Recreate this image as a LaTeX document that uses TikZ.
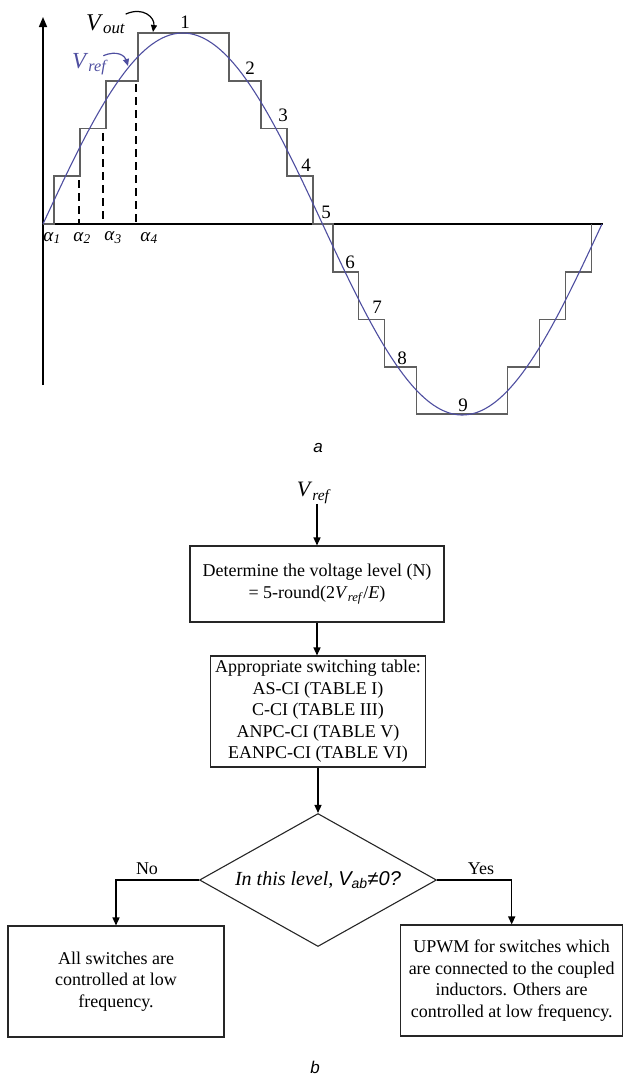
\documentclass[tikz,border=0pt]{standalone}
\usepackage{fontspec}
\setmainfont{Liberation Serif}
\setsansfont{Liberation Sans}
\usetikzlibrary{shapes.geometric, arrows.meta, positioning, calc}
\definecolor{refcolor}{RGB}{78, 78, 160}
\definecolor{stepcolor}{RGB}{95, 95, 95}

\begin{document}
\begin{tikzpicture}[
    x=1pt, y=-1pt,
    >={Triangle[length=8pt, width=7pt]},
    box/.style={rectangle, draw=black!85, line width=1.1pt, align=center, inner sep=0pt, font=\fontsize{18}{21.5}\selectfont},
    decision/.style={diamond, draw=black!85, line width=1.1pt, aspect=2, inner sep=0pt, minimum width=237pt, minimum height=133pt, font=\fontsize{20}{24}\selectfont},
    arrow/.style={->, line width=1.4pt},
    curvearrow/.style={-{Triangle[length=7pt, width=6pt]}, line width=1.2pt},
    lvl/.style={font=\fontsize{19}{22}\selectfont, inner sep=0pt},
    alphalbl/.style={font=\fontsize{19}{22}\selectfont, inner sep=0pt},
    branch/.style={font=\fontsize{18}{22}\selectfont, inner sep=0pt},
    figcap/.style={font=\fontsize{17}{20}\selectfont\sffamily\itshape, inner sep=0pt},
    alphaline/.style={line width=2.3pt, dash pattern=on 8pt off 5pt}
]
\useasboundingbox (0,0) rectangle (623,1077);

% Waveform (a)
\draw[line width=1.6pt, -{Triangle[length=10pt, width=8pt]}] (43,385) -- (43,17);
\draw[line width=1.8pt] (43,224) -- (603,224);

\draw[stepcolor, line width=1.2pt] (43,224) -| (54,176) -| (80,128.5) -| (106,81) -| (138,33)
    -| (229,81) -| (261,128.5) -| (287,176) -| (313,224) -| (333,272) -| (358.5,319.5)
    -| (384.5,367) -| (416.5,414) -| (507.5,367) -| (539.5,319.5) -| (565.5,272) -| (591.5,224);
\draw[refcolor, line width=1.1pt, domain=43:602, samples=160, smooth]
    plot (\x, {224-191*sin((\x-43)/559*360)});

\draw[alphaline] (79,180) -- (79,224);
\draw[alphaline] (103,133) -- (103,224);
\draw[alphaline] (136,84) -- (136,224);

\foreach \i/\px in {1/52, 2/82, 3/113, 4/149}
    \node[alphalbl] (a\i) at (\px,238) {\textit{α}\textsubscript{\textit{\i}}};

\foreach \n/\px/\py in {1/185/22, 2/250/68, 3/283/115, 4/306/165, 5/326/212, 6/350/262, 7/377/307, 8/402/358, 9/463/405}
    \node[lvl] (n\n) at (\px,\py) {\n};

% Curve labels
\node[anchor=base west, inner sep=0pt, font=\fontsize{24}{28}\selectfont] (vout) at (86,30) {\textit{V}\textsubscript{\textit{out}}};
\coordinate (voutstep) at (153,32);
\draw[curvearrow] (vout.north east) .. controls +(18,-8) and +(2,-14) .. (voutstep);

\node[anchor=base west, inner sep=0pt, text=refcolor, font=\fontsize{23}{27}\selectfont] (vrefa) at (72,68) {\textit{V}\textsubscript{\textit{ref}}};
\coordinate (vrefcurve) at (128,66);
\draw[curvearrow, refcolor] ($(vrefa.north east)+(-5,3)$) .. controls +(14,-6) and +(-3,-10) .. (vrefcurve);

\node[figcap] (capa) at (318,448) {a};

% Flowchart (b)
\node[inner sep=0pt, font=\fontsize{22}{26}\selectfont] (vin) at (314,493) {\textit{V}\textsubscript{\textit{ref}}};

\node[box, minimum width=254pt, minimum height=76pt] (level) at (317,584) {
    Determine the voltage level (N)\\
    = 5-round(2\textit{V}\textsubscript{\textit{ref}}/\textit{E})
};

\node[box, minimum width=215pt, minimum height=111pt] (table) at (318,711.5) {
    Appropriate switching table:\\
    AS-CI (TABLE I)\\
    C-CI (TABLE III)\\
    ANPC-CI (TABLE V)\\
    EANPC-CI (TABLE VI)
};

\node[decision] (check) at (318,880) {\itshape In this level, {\sffamily V\textsubscript{ab}≠0?}};

\node[box, minimum width=216pt, minimum height=111pt] (lowfreq) at (116,981.5) {
    All switches are\\
    controlled at low\\
    frequency.
};

\node[box, minimum width=222pt, minimum height=111pt] (upwm) at (511.7,980.5) {
    UPWM for switches which\\
    are connected to the coupled\\
    inductors. Others are\\
    controlled at low frequency.
};

% Arrows
\draw[arrow] (level.north |- vin.south) -- (level.north);
\draw[arrow] (level.south) -- (level.south |- table.north);
\draw[arrow] (table.south) -- (check.north);
\draw[arrow] (check.west) -| (lowfreq.north);
\draw[arrow] (check.east) -| (upwm.north);

% Labels on arrows
\node[branch] (no) at (147,869) {No};
\node[branch] (yes) at (481,869) {Yes};

\node[figcap] (capb) at (315,1067) {b};

\end{tikzpicture}
\end{document}
